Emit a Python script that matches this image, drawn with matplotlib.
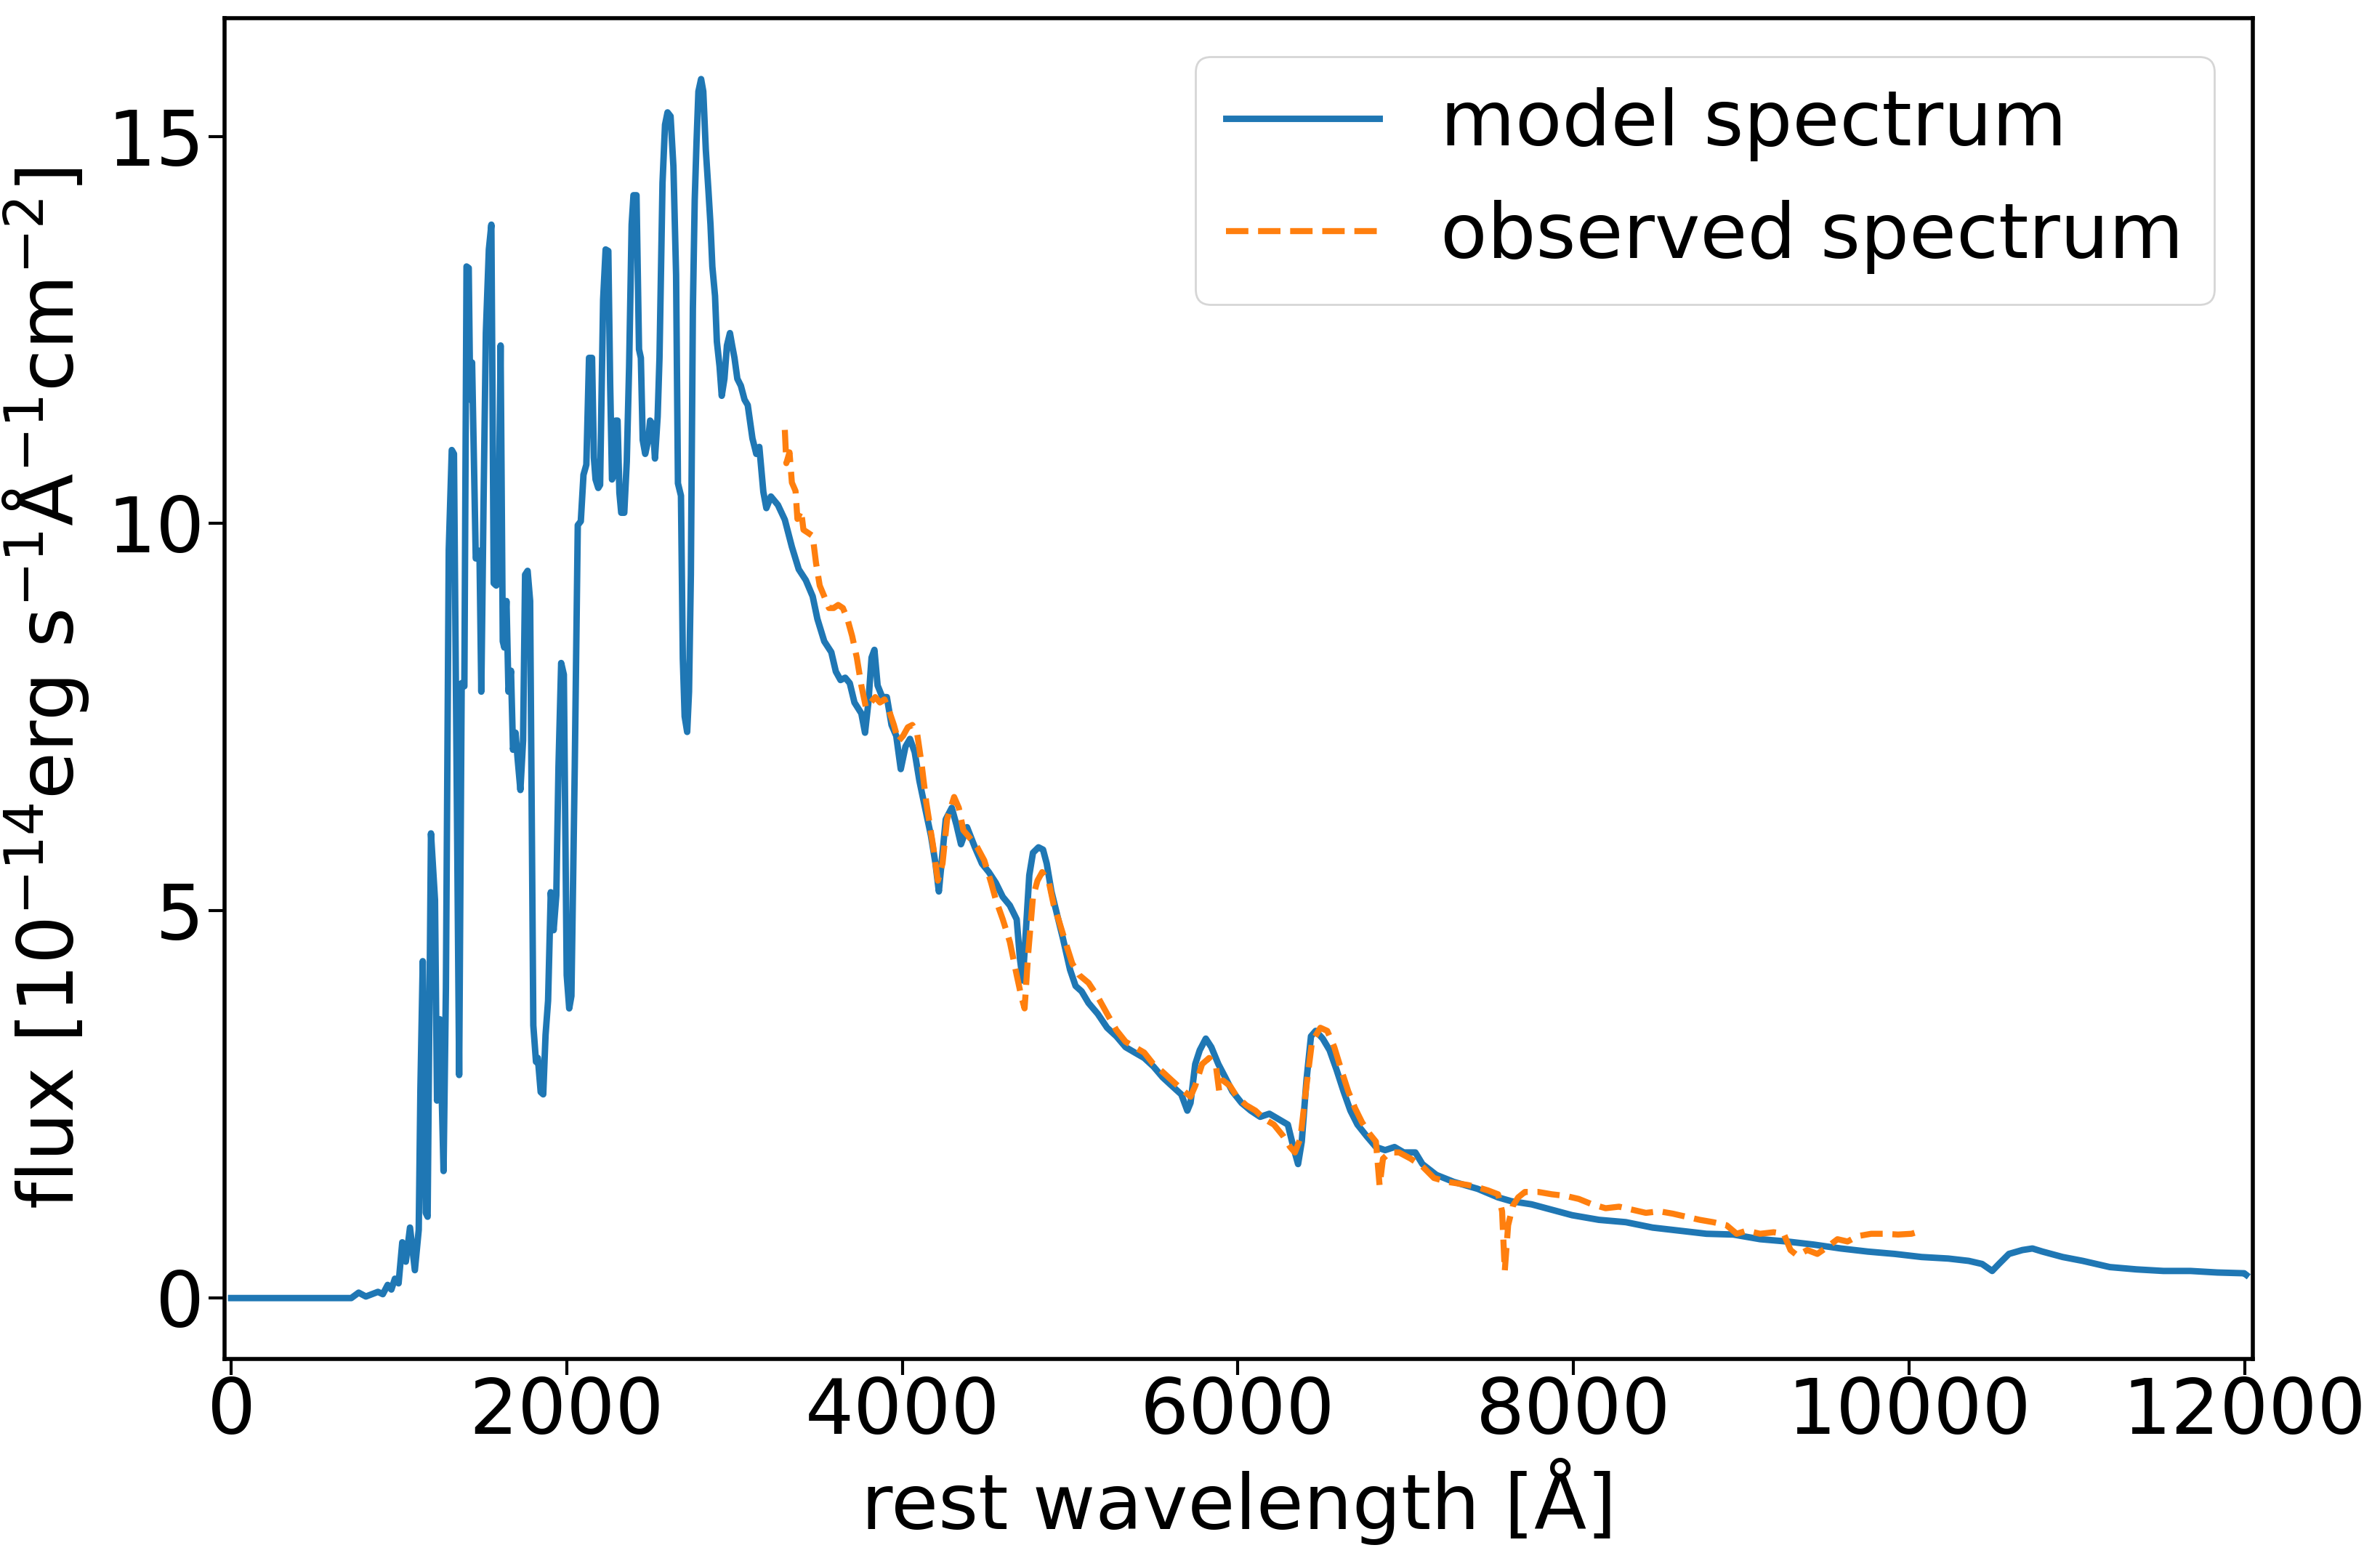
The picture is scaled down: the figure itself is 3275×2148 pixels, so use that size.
import numpy as np
import matplotlib
matplotlib.use("Agg")
import matplotlib.pyplot as plt

# model spectrum (wavelength in A, flux in 1e-14 erg/s/A/cm2)
model_wave = [0, 300, 585, 716, 760, 803, 875, 904, 933, 955, 976, 998, 1020, 1041,
              1066, 1095, 1118, 1128, 1142, 1160, 1171, 1191, 1215, 1227, 1244, 1266,
              1280, 1297, 1315, 1328, 1343, 1359, 1374, 1390, 1403, 1416, 1425, 1436,
              1447, 1458, 1480, 1491, 1504, 1518, 1536, 1551, 1565, 1580, 1595, 1606,
              1619, 1628, 1641, 1653, 1668, 1680, 1695, 1708, 1724, 1740, 1752, 1767,
              1782, 1801, 1817, 1828, 1845, 1860, 1874, 1889, 1905, 1922, 1938, 1951,
              1967, 1983, 2000, 2015, 2028, 2048, 2066, 2084, 2100, 2117, 2133, 2151,
              2162, 2172, 2188, 2199, 2217, 2232, 2248, 2259, 2270, 2281, 2292, 2303,
              2314, 2325, 2343, 2358, 2372, 2387, 2398, 2416, 2431, 2442, 2453, 2468,
              2486, 2497, 2513, 2526, 2542, 2553, 2571, 2586, 2601, 2619, 2636, 2652,
              2663, 2681, 2692, 2703, 2718, 2729, 2740, 2752, 2763, 2774, 2785, 2801,
              2814, 2829, 2845, 2857, 2868, 2884, 2895, 2911, 2924, 2940, 2955, 2973,
              2986, 3000, 3017, 3038, 3060, 3079, 3107, 3130, 3148, 3172, 3190, 3217,
              3259, 3300, 3342, 3383, 3425, 3466, 3494, 3535, 3577, 3604, 3632, 3660,
              3687, 3715, 3756, 3778, 3798, 3817, 3834, 3853, 3881, 3908, 3936, 3964,
              3991, 4019, 4046, 4074, 4102, 4129, 4171, 4198, 4218, 4240, 4259, 4295,
              4323, 4350, 4386, 4433, 4475, 4516, 4558, 4599, 4641, 4682, 4701, 4718,
              4737, 4757, 4779, 4812, 4839, 4861, 4889, 4922, 4958, 5000, 5033, 5069,
              5110, 5165, 5221, 5276, 5331, 5386, 5442, 5497, 5552, 5607, 5663, 5699,
              5718, 5746, 5773, 5809, 5842, 5884, 5925, 5967, 6022, 6077, 6133, 6188,
              6243, 6298, 6331, 6359, 6381, 6409, 6436, 6464, 6506, 6547, 6588, 6630,
              6671, 6713, 6768, 6823, 6878, 6934, 6989, 7058, 7100, 7183, 7287, 7430,
              7551, 7631, 7751, 7871, 7992, 8152, 8312, 8472, 8633, 8793, 8953, 9113,
              9274, 9434, 9594, 9755, 9915, 10075, 10235, 10356, 10436, 10496, 10536,
              10596, 10676, 10736, 10796, 10916, 11036, 11197, 11357, 11517, 11678,
              11838, 11998, 12010]
model_flux = [0, 0, 0, 0, 0.07, 0.02, 0.08, 0.05, 0.17, 0.11, 0.25, 0.19, 0.72, 0.47,
              0.91, 0.36, 0.88, 2.69, 4.35, 1.1, 1.05, 6.0, 5.14, 2.55, 3.6, 1.64,
              4.0, 9.66, 10.95, 10.9, 7.0, 2.88, 7.94, 7.9, 13.32, 13.3, 11.6, 12.08,
              10.8, 9.55, 9.65, 7.83, 10.2, 12.46, 13.54, 13.86, 9.23, 9.2, 10.1, 12.3,
              8.48, 8.4, 9.0, 7.83, 8.1, 7.08, 7.3, 6.95, 6.56, 7.2, 9.34, 9.39,
              9.0, 3.52, 3.05, 3.1, 2.66, 2.63, 3.4, 3.84, 5.24, 4.75, 5.2, 6.86,
              8.2, 8.05, 4.17, 3.74, 3.9, 6.86, 9.98, 10.03, 10.63, 10.76, 12.14, 12.14,
              10.85, 10.57, 10.46, 10.5, 12.89, 13.54, 13.52, 11.8, 10.57, 10.63, 11.33, 11.33,
              10.4, 10.14, 10.14, 10.8, 12.03, 13.86, 14.24, 14.24, 12.25, 12.14, 11.08, 10.9,
              11.08, 11.33, 11.28, 10.84, 11.38, 12.14, 14.4, 15.15, 15.31, 15.26, 14.61, 13.21,
              10.52, 10.36, 8.26, 7.51, 7.31, 7.83, 9.34, 12.78, 14.18, 14.94, 15.58, 15.74,
              15.58, 14.83, 14.29, 13.86, 13.32, 12.94, 12.35, 12.03, 11.65, 11.87, 12.3, 12.46,
              12.3, 12.14, 11.87, 11.78, 11.6, 11.53, 11.1, 10.9, 10.99, 10.41, 10.2, 10.35,
              10.24, 10.05, 9.7, 9.41, 9.27, 9.06, 8.77, 8.48, 8.34, 8.09, 7.98, 8.01,
              7.94, 7.69, 7.55, 7.3, 7.69, 8.27, 8.37, 7.91, 7.76, 7.76, 7.4, 7.26,
              6.83, 7.12, 7.22, 7.05, 6.68, 6.4, 5.97, 5.61, 5.25, 5.75, 6.18, 6.33,
              6.11, 5.86, 6.08, 5.82, 5.61, 5.5, 5.36, 5.18, 5.07, 4.89, 4.39, 4.1,
              4.75, 5.46, 5.75, 5.82, 5.79, 5.61, 5.25, 4.96, 4.64, 4.24, 4.03, 3.96,
              3.81, 3.67, 3.49, 3.38, 3.24, 3.17, 3.1, 2.99, 2.85, 2.74, 2.63, 2.42,
              2.52, 3.02, 3.2, 3.35, 3.24, 3.02, 2.85, 2.67, 2.52, 2.42, 2.34, 2.38,
              2.31, 2.24, 1.95, 1.73, 2.02, 2.81, 3.38, 3.45, 3.35, 3.2, 2.95, 2.67,
              2.42, 2.24, 2.09, 1.95, 1.91, 1.95, 1.88, 1.88, 1.73, 1.59, 1.5, 1.41,
              1.3, 1.25, 1.21, 1.14, 1.07, 1.01, 0.98, 0.91, 0.87, 0.83, 0.82, 0.76,
              0.73, 0.69, 0.64, 0.6, 0.57, 0.53, 0.51, 0.48, 0.44, 0.35, 0.44,
              0.57, 0.62, 0.64, 0.6, 0.53, 0.48, 0.4, 0.37, 0.35, 0.35,
              0.33, 0.32, 0.3]

# observed spectrum
obs_wave = [3300, 3309, 3328, 3342, 3364, 3375, 3397, 3411, 3439, 3466, 3486, 3508,
            3535, 3563, 3591, 3618, 3646, 3673, 3701, 3729, 3756, 3784, 3812, 3839,
            3867, 3894, 3922, 3950, 3977, 4005, 4033, 4060, 4088, 4115, 4143, 4185,
            4212, 4240, 4267, 4309, 4337, 4364, 4392, 4447, 4489, 4530, 4558, 4599,
            4641, 4682, 4710, 4729, 4751, 4779, 4806, 4834, 4875, 4903, 4931, 4972,
            5013, 5055, 5110, 5165, 5221, 5276, 5331, 5386, 5442, 5497, 5552, 5607,
            5663, 5718, 5746, 5787, 5829, 5870, 5889, 5911, 5953, 5994, 6050, 6105,
            6160, 6215, 6271, 6312, 6340, 6373, 6409, 6442, 6492, 6533, 6575, 6616,
            6658, 6699, 6740, 6782, 6823, 6845, 6865, 6906, 6961, 7030, 7100, 7169,
            7250, 7310, 7370, 7430, 7491, 7551, 7575, 7591, 7611, 7639, 7671, 7711,
            7791, 7871, 7952, 8032, 8112, 8192, 8272, 8352, 8432, 8512, 8592, 8673,
            8753, 8833, 8913, 8973, 9033, 9113, 9194, 9254, 9294, 9334, 9394, 9454,
            9514, 9574, 9634, 9695, 9775, 9855, 9935, 10015, 10075]
obs_flux = [11.21, 10.78, 10.92, 10.53, 10.42, 10.06, 10.17, 9.92, 9.88, 9.84, 9.49, 9.2,
            9.06, 8.91, 8.91, 8.95, 8.91, 8.77, 8.55, 8.27, 7.91, 7.62, 7.69, 7.76,
            7.69, 7.73, 7.58, 7.4, 7.19, 7.26, 7.37, 7.4, 7.3, 6.9, 6.4, 5.82,
            5.39, 5.61, 6.18, 6.47, 6.33, 6.04, 5.97, 5.82, 5.65, 5.36, 5.14, 4.89,
            4.6, 4.17, 3.89, 3.74, 4.46, 5.18, 5.39, 5.5, 5.36, 5.07, 4.89, 4.6,
            4.32, 4.17, 4.07, 3.89, 3.67, 3.46, 3.31, 3.24, 3.17, 3.02, 2.92, 2.81,
            2.7, 2.6, 2.74, 3.02, 3.1, 2.99, 2.67, 2.81, 2.74, 2.6, 2.49, 2.42,
            2.31, 2.24, 2.09, 1.95, 1.88, 2.06, 2.74, 3.31, 3.49, 3.45, 3.24, 2.95,
            2.67, 2.45, 2.27, 2.13, 2.02, 1.45, 1.8, 1.88, 1.88, 1.8, 1.7, 1.55,
            1.5, 1.48, 1.46, 1.43, 1.39, 1.34, 1.12, 0.35, 0.94, 1.19, 1.3, 1.37,
            1.37, 1.34, 1.32, 1.28, 1.21, 1.16, 1.18, 1.14, 1.1, 1.12, 1.09, 1.05,
            1.01, 0.98, 0.94, 0.83, 0.87, 0.83, 0.85, 0.83, 0.62, 0.55, 0.62, 0.57,
            0.66, 0.76, 0.73, 0.8, 0.83, 0.83, 0.82, 0.83, 0.87]

x_ticks = [0, 2000, 4000, 6000, 8000, 10000, 12000]
y_ticks = [0, 5, 10, 15]

fs = 38
fig = plt.figure(figsize=(16.375, 10.74), dpi=200)
ax = fig.add_axes([0.0943, 0.1294, 0.8523, 0.859])

ax.plot(model_wave, model_flux, color="#1f77b4", lw=3.2, label="model spectrum")
ax.plot(obs_wave, obs_flux, color="#ff7f0e", lw=3.0, ls="--", label="observed spectrum")

ax.set_xlim(-40, 12050)
ax.set_xticks(x_ticks)
ax.set_yticks(y_ticks)
ax.tick_params(axis="both", labelsize=fs, length=7.9, width=1.5)
ax.tick_params(axis="x", pad=0.5)
ax.tick_params(axis="y", pad=2)
for sp in ax.spines.values():
    sp.set_linewidth(2)

ax.set_xlabel("rest wavelength [Å]", fontsize=fs, labelpad=4)
ax.set_ylabel(r"flux [$10^{-14}$erg s$^{-1}$Å$^{-1}$cm$^{-2}$]", fontsize=fs, labelpad=8)
ax.legend(loc="upper right", fontsize=fs)

fig.savefig("out.png", dpi=200)
